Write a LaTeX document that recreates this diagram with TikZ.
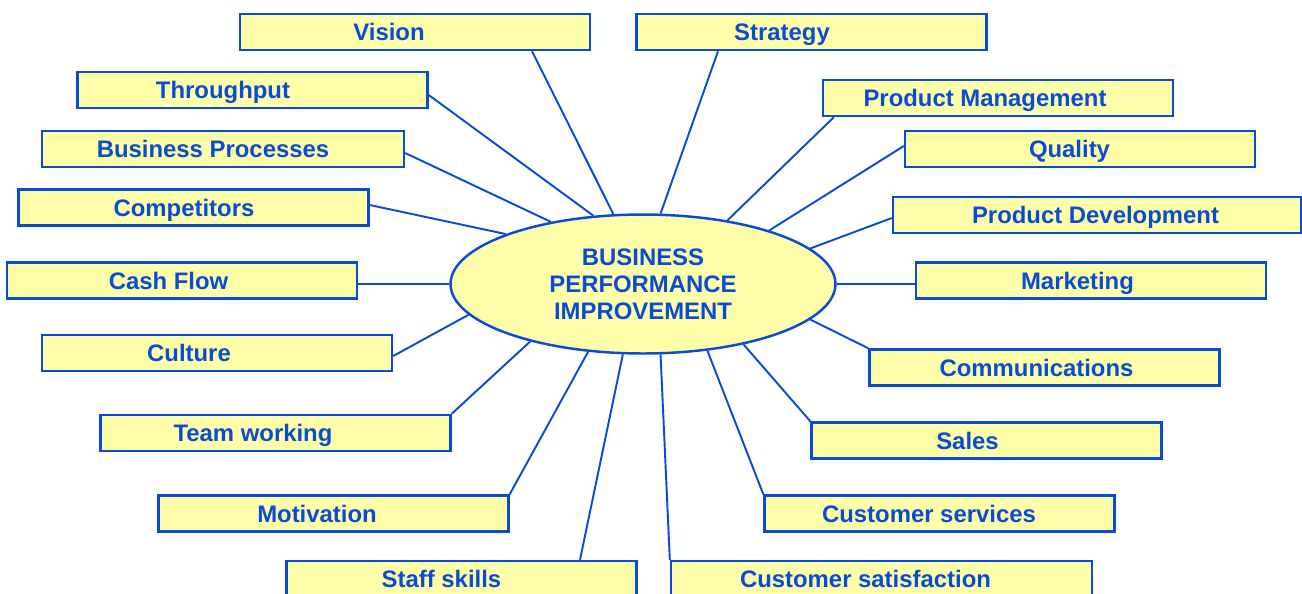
\documentclass[tikz,border=0pt]{standalone}
\usepackage{fontspec}
\setmainfont{Liberation Sans}
\usetikzlibrary{calc}
\usetikzlibrary{shapes.geometric}
\definecolor{bpblue}{RGB}{8,76,214}
\definecolor{bpyellow}{RGB}{255,255,170}

\begin{document}
\begin{tikzpicture}[x=0.02cm,y=-0.02cm,
    box/.style={draw=bpblue,fill=bpyellow,line width=1.4pt,minimum width=7cm,minimum height=0.72cm,
        inner sep=0pt,text=bpblue,font=\fontsize{13.6}{15.3}\selectfont\bfseries,
        text height=9.8pt,text depth=0pt,execute at end node={\hspace*{#1}}},
    box/.default=0.5cm,
    spoke/.style={draw=bpblue,line width=1.1pt}]
            \useasboundingbox (0,0) rectangle (1302,593);
            % centre
            \node (hub) [ellipse,draw=bpblue,fill=bpyellow,line width=1.4pt,minimum width=7.7cm,minimum height=2.78cm,
                inner sep=0pt,text=bpblue,align=center,font=\fontsize{13.6}{15.3}\selectfont\bfseries] at (643,284)
                {BUSINESS\\PERFORMANCE\\IMPROVEMENT};
            % left side
            \node (vis) [box=1.04cm] at (415,32) {Vision};
            \node (thr) [box=1.18cm] at (252.5,90) {Throughput};
            \node (bpr) [box=0.4cm,minimum width=7.24cm] at (223,149) {Business Processes};
            \node (com) [box=0.38cm] at (193.5,207.5) {Competitors};
            \node (cas) [box=0.54cm] at (182,280.5) {Cash Flow};
            \node (cul) [box=1.12cm] at (217,353) {Culture};
            \node (tea) [box=0.9cm] at (275.5,433) {Team working};
            \node (mot) [box=0.66cm] at (333.5,513.5) {Motivation};
            \node (sta) [box=0.8cm] at (461.5,579) {Staff skills};
            % right side
            \node (str) [box=1.18cm] at (811.5,32) {Strategy};
            \node (pma) [box=0.52cm] at (998,98) {Product Management};
            \node (qua) [box=0.42cm] at (1080,149) {Quality};
            \node (pde) [box=0.06cm,minimum width=8.16cm] at (1097,215) {Product Development};
            \node (mar) [box=0.54cm] at (1091,280.5) {Marketing};
            \node (cmm) [box=0.32cm] at (1044.5,367.5) {Communications};
            \node (sal) [box=0.76cm] at (986.5,440.5) {Sales};
            \node (cse) [box=0.42cm] at (939.5,513.5) {Customer services};
            \node (csa) [box=0.64cm,minimum width=8.42cm] at (881.5,579) {Customer satisfaction};
            % spokes
            \draw[spoke] ($(vis.south)+(117,0)$) -- (hub.113.3);
            \draw[spoke] ($(thr.east)+(0,5)$) -- (hub.126.4);
            \draw[spoke] ($(bpr.east)+(0,4)$) -- (hub.146.2);
            \draw[spoke] ($(com.east)+(0,-2.5)$) -- (hub.160.7);
            \draw[spoke] ($(cas.east)+(0,3.5)$) -- (hub.180);
            \draw[spoke] ($(cul.east)+(0,3)$) -- (hub.190.3);
            \draw[spoke] (tea.north east) -- (hub.207.8);
            \draw[spoke] (mot.north east) -- (hub.231.2);
            \draw[spoke] ($(sta.north)+(118.5,0)$) -- (hub.254.7);
            \draw[spoke] ($(str.south)+(-93.5,0)$) -- (hub.76.7);
            \draw[spoke] ($(pma.south west)+(12,0)$) -- (hub.37.6);
            \draw[spoke] ($(qua.west)+(0,-3)$) -- (hub.23.9);
            \draw[spoke] ($(pde.west)+(0,3)$) -- (hub.12.3);
            \draw[spoke] ($(mar.west)+(0,3.5)$) -- (hub.0);
            \draw[spoke] (cmm.north west) -- (hub.348.3);
            \draw[spoke] (sal.north west) -- (hub.329.4);
            \draw[spoke] (cse.north west) -- (hub.314.1);
            \draw[spoke] (csa.north west) -- (hub.284.4);
\end{tikzpicture}
\end{document}
